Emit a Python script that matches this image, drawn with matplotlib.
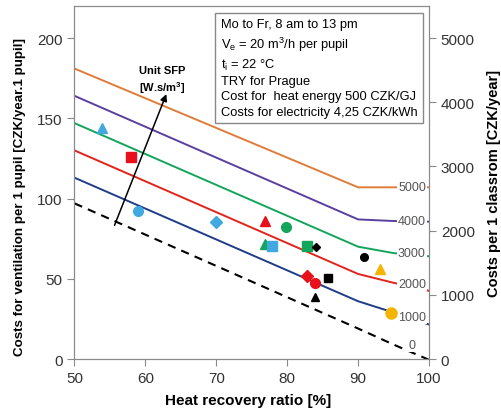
import matplotlib
matplotlib.use("Agg")
import matplotlib.pyplot as plt

plt.rcParams['font.family'] = ['Liberation Sans', 'DejaVu Sans']

# heat recovery ratio [%] at the break points of the cost lines
hr = [50, 90, 95, 100]
# costs per pupil [CZK/year] for each unit SFP
sfp_labels = ['5000', '4000', '3000', '2000', '1000', '0']
cost_5000 = [181, 107, 107, 107]
cost_4000 = [164, 87, 86, 85.6]
cost_3000 = [147, 70, 66, 64]
cost_2000 = [130, 53, 47.5, 42.5]
cost_1000 = [113, 36, 29, 21.5]
cost_0 = [97, 19, 9, -0.5]
line_colors = ['#E07B39', '#5B3FA0', '#13A55A', '#E2231A', '#1F3C88']

# measured units
pts_x = [53.9, 57.9, 58.9, 69.9, 76.9, 79.9, 76.8, 77.9, 82.8, 84.0,
         90.8, 93.1, 82.8, 83.9, 85.8, 83.9, 94.7]
pts_y = [143.7, 126, 92, 85.4, 85.8, 82.3, 71.9, 70.2, 70.4, 69.6,
         63.5, 55.8, 51.7, 47.5, 50.6, 38.5, 28.8]
pts_marker = ['^', 's', 'o', 'D', '^', 'o', '^', 's', 's', 'D',
              'o', '^', 'D', 'o', 's', '^', 'o']
pts_color = ['#3FA9E0', '#E8101A', '#3FA9E0', '#3FA9E0', '#E8101A', '#13A55A',
             '#13A55A', '#3FA9E0', '#13A55A', 'black', 'black', '#F5B400',
             '#E8101A', '#E8101A', 'black', 'black', '#F5B400']
pts_size = [7, 7, 7, 6, 7, 7, 7, 7, 7, 4.5, 5.5, 7, 6, 7, 5.5, 5.5, 8]

info = ("Mo to Fr, 8 am to 13 pm\n"
        "V$_\\mathregular{e}$ = 20 m$^\\mathregular{3}$/h per pupil\n"
        "t$_\\mathregular{i}$ = 22 \u00b0C\n"
        "TRY for Prague\n"
        "Cost for  heat energy 500 CZK/GJ\n"
        "Costs for electricity 4,25 CZK/kWh")

fig = plt.figure(figsize=(5.02, 4.14), dpi=100)
ax = fig.add_axes([0.1484, 0.1304, 0.7062, 0.8527])

series = [cost_5000, cost_4000, cost_3000, cost_2000, cost_1000]
for vals, c in zip(series, line_colors):
    ax.plot(hr, vals, color=c, lw=1.4, zorder=2)
ax.plot(hr, cost_0, color='black', lw=1.5, ls=(0, (4, 3)), zorder=2)

for x, y, m, c, s in zip(pts_x, pts_y, pts_marker, pts_color, pts_size):
    ax.plot(x, y, marker=m, color=c, ms=s, ls='none', zorder=4)

# labels at the line ends
label_y = [107, 86, 66, 47, 26, 9]
for lab, y in zip(sfp_labels, label_y):
    ax.text(97.6, y, lab, ha='center', va='center', fontsize=9, color='#555555',
            bbox=dict(facecolor='white', edgecolor='none', pad=0.8), zorder=3)

ax.annotate('', xy=(63.1, 166.7), xytext=(55.5, 81.7),
            arrowprops=dict(arrowstyle='-|>', color='black', lw=1.1,
                            mutation_scale=10), zorder=5)
ax.text(62.3, 174, 'Unit SFP\n[W.s/m$^\\mathregular{3}$]', ha='center', va='center',
        fontsize=8, fontweight='bold', linespacing=1.4)

ax.text(0.412, 0.965, info, transform=ax.transAxes, ha='left', va='top',
        fontsize=9.3, linespacing=1.35, zorder=6,
        bbox=dict(facecolor='white', edgecolor='#888888', lw=1, pad=4))

ax.set_xlim(50, 100)
ax.set_ylim(0, 220)
ax.set_xticks([50, 60, 70, 80, 90, 100])
ax.set_yticks([0, 50, 100, 150, 200])
ax.set_xlabel('Heat recovery ratio [%]', fontsize=11, fontweight='bold')
ax.set_ylabel('Costs for ventilation per 1 pupil [CZK/year.1 pupil]',
              fontsize=9.6, fontweight='bold')
ax.xaxis.set_label_coords(0.49, -0.095)
ax.yaxis.set_label_coords(-0.136, 0.463)

ax2 = ax.twinx()
ax2.set_ylim(0, 5500)
ax2.set_yticks([0, 1000, 2000, 3000, 4000, 5000])
ax2.set_ylabel('Costs per 1 classrom [CZK/year]', fontsize=10.5, fontweight='bold')
ax2.yaxis.set_label_coords(1.164, 0.5)

for a in (ax, ax2):
    for sp in a.spines.values():
        sp.set_color('#8a8a8a')
    a.tick_params(colors='#8a8a8a', labelcolor='#333333', labelsize=11,
                  length=5, width=0.8)

fig.savefig('out.png', dpi=100)
